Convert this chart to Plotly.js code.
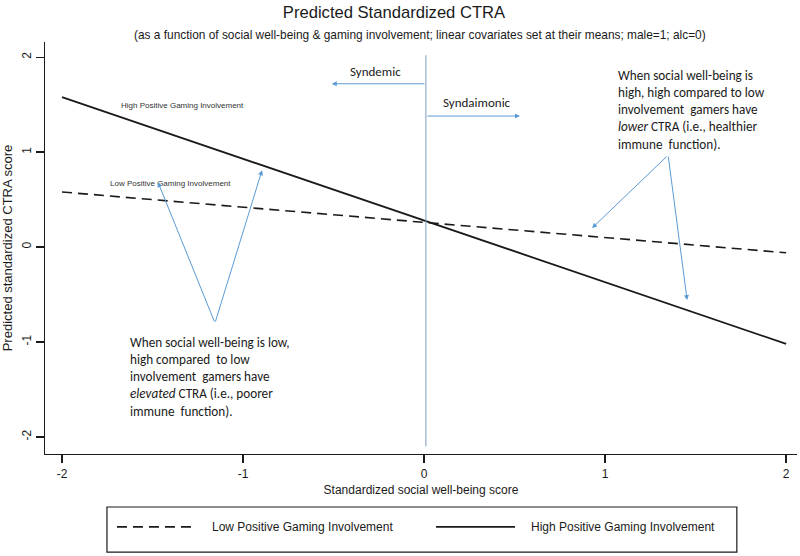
<!DOCTYPE html>
<html>
<head>
<meta charset="utf-8">
<script src="https://cdn.plot.ly/plotly-3.0.1.min.js"></script>
<style>html,body{margin:0;padding:0;background:#fff;}#chart{width:800px;height:556px;}</style>
</head>
<body>
<div id="chart"></div>
<script>
// Data
const wellBeing = [-2, -1, 0, 1, 2];
const lowInvolvement = [0.58, 0.42, 0.26, 0.10, -0.06];
const highInvolvement = [1.58, 0.93, 0.28, -0.37, -1.02];
const seriesNames = ["Low Positive Gaming Involvement", "High Positive Gaming Involvement"];
const xTicks = [-2, -1, 0, 1, 2];
const yTicks = [-2, -1, 0, 1, 2];

const AX = "Liberation Sans, Arial, sans-serif";
const CAL = "Carlito, Lato, sans-serif";
const BLUE = "#5b9bd5";
const TXT = "#1a1a1a";

const traces = [
  {x: wellBeing, y: lowInvolvement, name: seriesNames[0], mode: "lines",
   line: {color: "#1a1a1a", width: 1.6, dash: "10px,6px"}, showlegend: false},
  {x: wellBeing, y: highInvolvement, name: seriesNames[1], mode: "lines",
   line: {color: "#1a1a1a", width: 1.8}, showlegend: false}
];

function arrow(x, y, ax, ay) {
  return {x: x, y: y, ax: ax, ay: ay, xref: "x", yref: "y", axref: "x", ayref: "y",
    text: "", showarrow: true, arrowhead: 2, arrowsize: 1, arrowwidth: 1, arrowcolor: BLUE};
}

const annotations = [
  {text: "(as a function of social well-being & gaming involvement; linear covariates set at their means; male=1; alc=0)",
   xref: "paper", yref: "paper", x: 0.4987, y: 1.017, showarrow: false, xanchor: "center", yanchor: "middle",
   font: {family: AX, size: 11.9, color: TXT}},
  // Syndemic / Syndaimonic arrows
  arrow(-0.51, 1.72, 0.01, 1.72),
  arrow(0.53, 1.38, 0.01, 1.38),
  {text: "Syndemic", x: -0.27, y: 1.85, xref: "x", yref: "y", showarrow: false, font: {family: CAL, size: 13, color: TXT}},
  {text: "Syndaimonic", x: 0.29, y: 1.52, xref: "x", yref: "y", showarrow: false, font: {family: CAL, size: 13, color: TXT}},
  // line labels
  {text: seriesNames[1], x: -1.337, y: 1.495, xref: "x", yref: "y", showarrow: false, font: {family: AX, size: 8, color: "#333"}},
  {text: seriesNames[0], x: -1.403, y: 0.674, xref: "x", yref: "y", showarrow: false, font: {family: AX, size: 8, color: "#333"}},
  // left callout
  arrow(-1.47, 0.684, -1.155, -0.80),
  arrow(-0.895, 0.81, -1.155, -0.80),
  {text: "When social well-being is low,<br>high compared  to low<br>involvement  gamers have<br><i>elevated</i> CTRA (i.e., poorer<br>immune  function).",
   x: -1.635, y: -0.90, xref: "x", yref: "y", xanchor: "left", yanchor: "top", align: "left", showarrow: false,
   font: {family: CAL, size: 13.2, color: TXT}},
  // right callout
  arrow(0.928, 0.20, 1.348, 0.968),
  arrow(1.453, -0.558, 1.348, 0.968),
  {text: "When social well-being is<br>high, high compared to low<br>involvement  gamers have<br><i>lower</i> CTRA (i.e., healthier<br>immune  function).",
   x: 1.06, y: 1.92, xref: "x", yref: "y", xanchor: "left", yanchor: "top", align: "left", showarrow: false,
   font: {family: CAL, size: 13.2, color: TXT}},
  // legend texts
  {text: seriesNames[0], xref: "paper", yref: "paper", x: 0.2194, y: -0.177, xanchor: "left", yanchor: "middle", showarrow: false,
   font: {family: AX, size: 12, color: TXT}},
  {text: seriesNames[1], xref: "paper", yref: "paper", x: 0.6436, y: -0.177, xanchor: "left", yanchor: "middle", showarrow: false,
   font: {family: AX, size: 12, color: TXT}}
];

const shapes = [
  {type: "line", xref: "x", yref: "y", x0: 0.01, x1: 0.01, y0: 2.02, y1: -2.1, line: {color: "#7a9cbf", width: 1}},
  {type: "rect", xref: "paper", yref: "paper", x0: 0.0824, x1: 0.920, y0: -0.238, y1: -0.1286, line: {color: "#1a1a1a", width: 1.2}, fillcolor: "rgba(0,0,0,0)"},
  {type: "line", xref: "paper", yref: "paper", x0: 0.0957, x1: 0.2021, y0: -0.177, y1: -0.177, line: {color: "#1a1a1a", width: 1.6, dash: "10px,6px"}},
  {type: "line", xref: "paper", yref: "paper", x0: 0.52, x1: 0.625, y0: -0.177, y1: -0.177, line: {color: "#1a1a1a", width: 1.6}}
];

const layout = {
  width: 800, height: 556,
  paper_bgcolor: "#fff", plot_bgcolor: "#fff",
  margin: {l: 45, r: 3, t: 42, b: 102, pad: 0},
  title: {text: "Predicted Standardized CTRA", x: 0.4925, xanchor: "center", y: 0.978, yanchor: "middle",
          font: {family: AX, size: 16.6, color: TXT}},
  xaxis: {range: [-2.094, 2.06], tickvals: xTicks, ticktext: xTicks.map(String), showgrid: false, zeroline: false,
          showline: true, linecolor: "#1a1a1a", linewidth: 1.3, ticks: "outside", ticklen: 8, tickwidth: 1.3, tickcolor: "#1a1a1a",
          tickfont: {family: AX, size: 12, color: TXT},
          title: {text: "Standardized social well-being score", standoff: 6, font: {family: AX, size: 12, color: TXT}}},
  yaxis: {range: [-2.18, 2.16], tickvals: yTicks, ticktext: yTicks.map(String), showgrid: false, zeroline: false,
          showline: true, linecolor: "#1a1a1a", linewidth: 1.3, ticks: "outside", ticklen: 8, tickwidth: 1.3, tickcolor: "#1a1a1a",
          tickangle: -90, tickfont: {family: AX, size: 12, color: TXT},
          title: {text: "Predicted standardized CTRA score", standoff: 4, font: {family: AX, size: 13, color: TXT}}},
  showlegend: false,
  annotations: annotations,
  shapes: shapes
};

Plotly.newPlot("chart", traces, layout, {displayModeBar: false, staticPlot: true});
</script>
</body>
</html>
